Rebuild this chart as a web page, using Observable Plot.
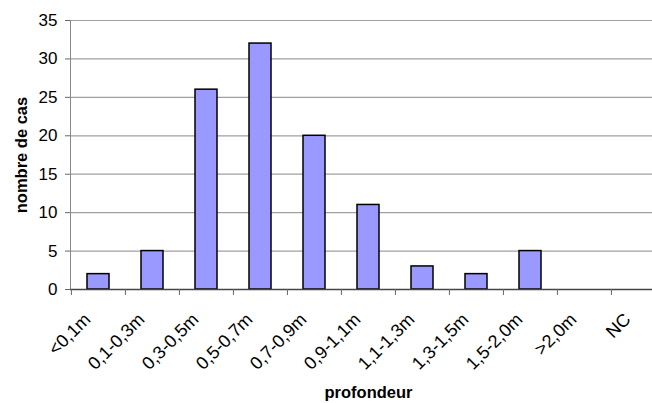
<!DOCTYPE html>
<html><head><meta charset="utf-8">
<script src="https://cdn.jsdelivr.net/npm/d3@7"></script>
<script src="https://cdn.jsdelivr.net/npm/@observablehq/plot@0.6"></script>
<style>
body{margin:0;background:#fff}
g[aria-label="y-axis label"] text, g[aria-label="x-axis label"] text {font-weight:bold;font-size:16.5px}
</style></head><body><div id="chart"></div>
<script>
const categories = ["<0,1m","0,1-0,3m","0,3-0,5m","0,5-0,7m","0,7-0,9m","0,9-1,1m","1,1-1,3m","1,3-1,5m","1,5-2,0m",">2,0m","NC"];
const values = [2,5,26,32,20,11,3,2,5,0,0];
const yTicks = [0,5,10,15,20,25,30,35];
const yLabel = "nombre de cas";
const xLabel = "profondeur";

const data = categories.map((c,i)=>({cat:c, n:values[i]}));
const W = 652, H = 403, mL = 70, mR = -14;
const step = (W - mR - mL) / categories.length;

const chart = Plot.plot({
  width: W, height: H, marginTop: 20, marginBottom: 114, marginLeft: mL, marginRight: mR,
  style: {fontFamily: "'Liberation Sans', Arial, sans-serif", fontSize: "16px", color: "#000", background: "#fff", overflow: "hidden"},
  x: {domain: categories, paddingInner: 0.6, paddingOuter: 0.3, label: null},
  y: {domain: [0, 35], label: null},
  marks: [
    Plot.ruleY(yTicks.slice(1), {stroke: "#a0a0a0", strokeWidth: 1.2}),
    Plot.barY(data, {filter: d => d.n > 0, x: "cat", y: "n", fill: "#9999ff", stroke: "#000", strokeWidth: 1.5}),
    Plot.frame({anchor: "left", stroke: "#888"}),
    Plot.ruleY([0], {stroke: "#444", strokeWidth: 1.5}),
    Plot.axisY({ticks: yTicks, tickSize: 5, tickPadding: 8, fontSize: 17, stroke: "#666",
      label: yLabel, labelAnchor: "center", labelArrow: "none", labelOffset: 55}),
    Plot.axisX({tickSize: 6, dx: -step / 2, tickFormat: () => "", stroke: "#666", label: null}),
    Plot.axisX({tickSize: 0, tickRotate: -45, tickPadding: 27, dx: -11, fontSize: 18,
      label: xLabel, labelAnchor: "center", labelArrow: "none", labelOffset: 108})
  ]
});
document.getElementById("chart").appendChild(chart);
</script></body></html>
